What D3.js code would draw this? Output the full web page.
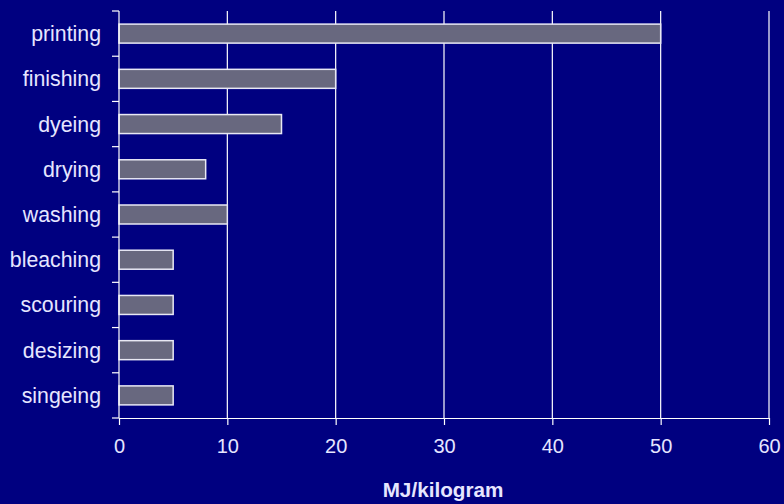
<!DOCTYPE html>
<html>
<head>
<meta charset="utf-8">
<script src="https://cdn.jsdelivr.net/npm/d3@7"></script>
<style>
  html, body { margin: 0; padding: 0; background: #000080; }
  svg { display: block; }
</style>
</head>
<body>
<script>
// chart data, top to bottom
const categories = ['printing', 'finishing', 'dyeing', 'drying', 'washing', 'bleaching', 'scouring', 'desizing', 'singeing'];
const values = [50, 20, 15, 8, 10, 5, 5, 5, 5];
const xTicks = [0, 10, 20, 30, 40, 50, 60];
const xTitle = 'MJ/kilogram';

const WIDTH = 784, HEIGHT = 504;
const margin = { top: 11, right: 15, bottom: 86, left: 119 };
const innerW = WIDTH - margin.left - margin.right;
const innerH = HEIGHT - margin.top - margin.bottom;
const textColor = '#e6e6ff';
const font = '"Liberation Sans", Arial, sans-serif';

const svg = d3.select('body')
  .append('svg')
  .attr('width', WIDTH)
  .attr('height', HEIGHT);

svg.append('rect')
  .attr('width', WIDTH)
  .attr('height', HEIGHT)
  .attr('fill', '#000080');

const g = svg.append('g')
  .attr('transform', `translate(${margin.left},${margin.top})`);

const x = d3.scaleLinear().domain([0, 60]).range([0, innerW]);
const y = d3.scaleBand().domain(categories).range([0, innerH]).paddingInner(0.58).paddingOuter(0.29);
const yb = d3.scaleBand().domain(categories).range([0, innerH]);

// vertical gridlines
g.append('g')
  .selectAll('line')
  .data(xTicks.slice(1))
  .enter()
  .append('line')
  .attr('x1', d => x(d))
  .attr('x2', d => x(d))
  .attr('y1', 0)
  .attr('y2', innerH)
  .attr('stroke', '#ffffff')
  .attr('stroke-width', 1.2);

// bars
g.append('g')
  .selectAll('rect')
  .data(categories)
  .enter()
  .append('rect')
  .attr('x', x(0))
  .attr('y', d => y(d))
  .attr('width', (d, i) => x(values[i]))
  .attr('height', y.bandwidth())
  .attr('fill', '#68687f')
  .attr('stroke', '#e8e8f4')
  .attr('stroke-width', 1.5);

// x axis
const xAxis = g.append('g')
  .attr('transform', `translate(0,${innerH})`)
  .call(d3.axisBottom(x).tickValues(xTicks).tickSize(7).tickSizeOuter(0).tickPadding(14));
xAxis.selectAll('path, line').attr('stroke', '#ffffff').attr('stroke-width', 1.2);
xAxis.selectAll('text')
  .attr('fill', textColor)
  .attr('font-family', font)
  .attr('font-size', 20);

// y axis: ticks at band boundaries
const yAxis = g.append('g');
yAxis.append('line')
  .attr('x1', 0).attr('x2', 0)
  .attr('y1', 0).attr('y2', innerH)
  .attr('stroke', '#ffffff')
  .attr('stroke-width', 1.2);
yAxis.selectAll('line.tick')
  .data(categories.concat(['end']))
  .enter()
  .append('line')
  .attr('class', 'tick')
  .attr('x1', -7).attr('x2', 0)
  .attr('y1', (d, i) => i < categories.length ? yb(d) : innerH)
  .attr('y2', (d, i) => i < categories.length ? yb(d) : innerH)
  .attr('stroke', '#ffffff')
  .attr('stroke-width', 1.2);
yAxis.selectAll('text')
  .data(categories)
  .enter()
  .append('text')
  .attr('x', -18)
  .attr('y', d => yb(d) + yb.bandwidth() / 2)
  .attr('dy', '0.35em')
  .attr('text-anchor', 'end')
  .attr('fill', textColor)
  .attr('font-family', font)
  .attr('font-size', 21.3)
  .text(d => d);

// axis title
svg.append('text')
  .attr('x', margin.left + innerW / 2 - 1)
  .attr('y', 497)
  .attr('text-anchor', 'middle')
  .attr('fill', textColor)
  .attr('font-family', font)
  .attr('font-size', 20.7)
  .attr('font-weight', 'bold')
  .text(xTitle);
</script>
</body>
</html>
